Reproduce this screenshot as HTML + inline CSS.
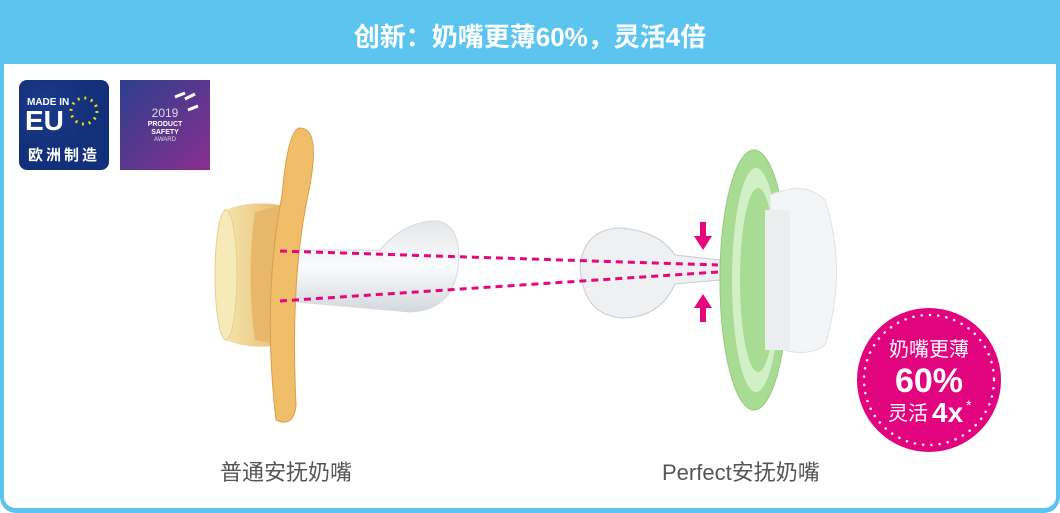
<!DOCTYPE html>
<html><head><meta charset="utf-8"><style>
body{margin:0;width:1060px;height:513px;overflow:hidden;background:#fff;font-family:"Liberation Sans","Noto Sans CJK SC",sans-serif}
.frame{position:absolute;left:0;top:0;width:1060px;height:513px;box-sizing:border-box;border:4px solid #5bc5f0;border-bottom-width:5px;border-radius:0 0 16px 16px;background:#fff}
.head{position:absolute;left:0;top:0;width:1060px;height:64px;background:#5bc5f0;color:#fff;font-weight:bold;font-size:26px;text-align:center;line-height:74px}
.lbl{position:absolute;top:455px;font-size:22px;color:#555}
</style></head><body>
<div class="frame"></div>
<div class="head">创新：奶嘴更薄60%，灵活4倍</div>
<svg width="1060" height="513" style="position:absolute;left:0;top:0">
<defs>
<radialGradient id="eu" cx="0.3" cy="0.3"><stop offset="0" stop-color="#1b3a8c"/><stop offset="1" stop-color="#13307a"/></radialGradient>
<linearGradient id="aw" x1="0" y1="0" x2="1" y2="1"><stop offset="0" stop-color="#2c3f8e"/><stop offset="1" stop-color="#8a2f8f"/></linearGradient>
<linearGradient id="ye" x1="0" x2="1"><stop offset="0" stop-color="#f5e8b4"/><stop offset="1" stop-color="#e9bf72"/></linearGradient>
<linearGradient id="nip" x1="0" y1="0" x2="0" y2="1"><stop offset="0" stop-color="#e4e7ea"/><stop offset="0.5" stop-color="#fafbfc"/><stop offset="1" stop-color="#d4d8dc"/></linearGradient>
</defs>
<rect x="19" y="80" width="90" height="90" rx="8" fill="url(#eu)"/>
<text x="27" y="105" fill="#fff" font-size="10" font-weight="bold">MADE IN</text>
<text x="25" y="130" fill="#fff" font-size="28" font-weight="bold">EU</text>
<circle cx="84" cy="111" r="13" fill="none" stroke="#f5d90a" stroke-width="3" stroke-dasharray="2 4.8"/>
<text x="64" y="160" fill="#fff" font-size="15" font-weight="bold" text-anchor="middle" letter-spacing="3">欧洲制造</text>
<rect x="120" y="80" width="90" height="90" fill="url(#aw)"/>
<text x="165" y="117" fill="#ddd" font-size="12" text-anchor="middle">2019</text>
<text x="165" y="126" fill="#fff" font-size="7" font-weight="bold" text-anchor="middle">PRODUCT</text>
<text x="165" y="134" fill="#fff" font-size="7" font-weight="bold" text-anchor="middle">SAFETY</text>
<text x="165" y="141" fill="#ddd" font-size="6" text-anchor="middle">AWARD</text>
<path d="M175 97 l10 -4 M185 99 l10 -5 M188 110 l10-4" stroke="#fff" stroke-width="3"/>
<!-- left pacifier base -->
<path d="M225 210 Q214 275 225 340 Q250 350 280 345 L280 205 Q250 200 225 210 Z" fill="url(#ye)"/>
<ellipse cx="226" cy="275" rx="11" ry="65" fill="#f6eab8" stroke="#e6cf8a"/>
<path d="M255 212 Q246 275 255 340 L282 345 L282 205 Z" fill="#e8b86a"/>
<path d="M275 250 L380 250 Q405 220 438 221 Q462 226 458 268 Q452 310 410 312 L275 300 Z" fill="url(#nip)" stroke="#d5d9dd"/>
<path d="M300 128 Q322 128 308 195 Q290 280 296 405 Q294 428 276 420 Q262 300 282 195 Q288 128 300 128 Z" fill="#f0bd68" stroke="#d99e4c"/>
<!-- right pacifier -->
<path d="M580 265 Q585 228 622 228 Q660 232 675 255 L720 260 L720 280 L675 284 Q660 318 622 318 Q582 315 580 265 Z" fill="#eef0f2" stroke="#c8cdd2"/>
<ellipse cx="754" cy="280" rx="34" ry="130" fill="#a8dc95" stroke="#8fcc7c"/>
<ellipse cx="756" cy="280" rx="24" ry="112" fill="#d2f0c6"/>
<ellipse cx="758" cy="280" rx="18" ry="92" fill="#a8dc95"/>
<path d="M770 195 Q805 180 825 200 Q848 270 825 345 Q805 360 770 345 Z" fill="#f4f5f6" stroke="#dfe2e5"/>
<path d="M765 210 L790 210 L790 350 L765 350 Z" fill="#ebedef"/>
<!-- dashed lines -->
<line x1="280" y1="251" x2="718" y2="265" stroke="#e5077e" stroke-width="3" stroke-dasharray="7 5"/>
<line x1="280" y1="301" x2="718" y2="272" stroke="#e5077e" stroke-width="3" stroke-dasharray="7 5"/>
<path d="M700 222 h6 v14 h6 l-9 14 l-9 -14 h6 Z" fill="#e5077e"/>
<path d="M700 322 h6 v-14 h6 l-9 -14 l-9 14 h6 Z" fill="#e5077e"/>
<!-- badge -->
<circle cx="929" cy="380" r="72" fill="#e2037e"/>
<circle cx="929" cy="380" r="65" fill="none" stroke="#fff" stroke-width="2.5" stroke-dasharray="0.1 8.2" stroke-linecap="round"/>
<text x="929" y="356" fill="#fff" font-size="20" text-anchor="middle">奶嘴更薄</text>
<text x="929" y="392" fill="#fff" font-size="34" font-weight="bold" text-anchor="middle">60%</text>
<text x="888" y="420" fill="#fff" font-size="20">灵活</text>
<text x="932" y="422" fill="#fff" font-size="28" font-weight="bold">4x</text>
<text x="966" y="410" fill="#fff" font-size="14">*</text>
</svg>
<div class="lbl" style="left:220px">普通安抚奶嘴</div>
<div class="lbl" style="left:662px">Perfect安抚奶嘴</div>
</body></html>
